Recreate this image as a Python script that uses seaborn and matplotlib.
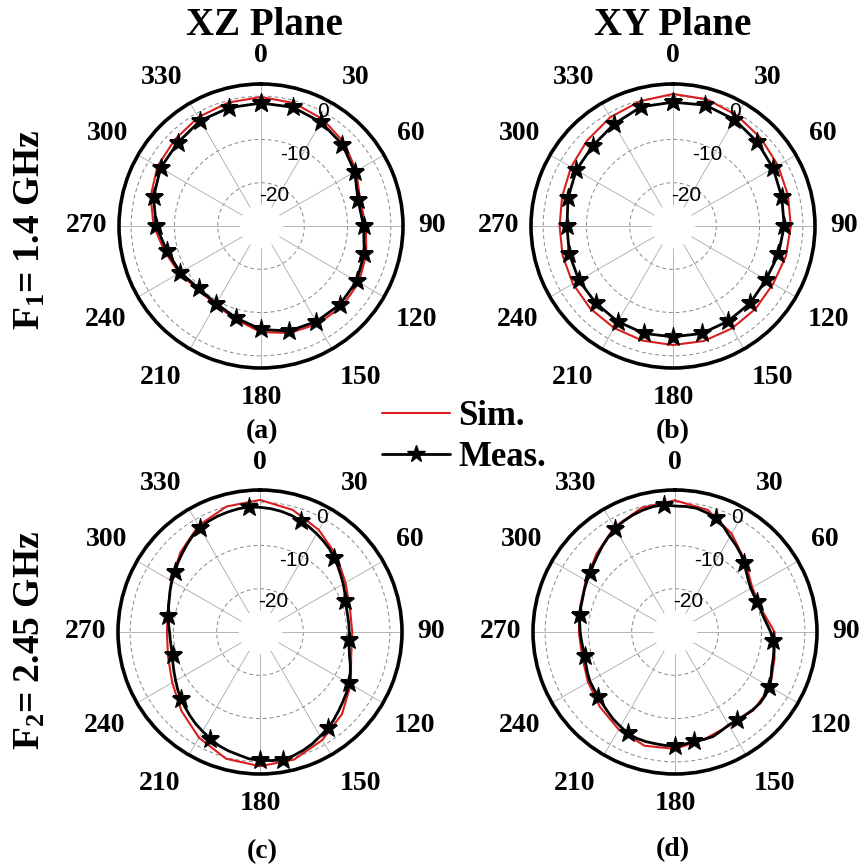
import numpy as np
import matplotlib
matplotlib.use("Agg")
import matplotlib.pyplot as plt
import seaborn as sns
from matplotlib.lines import Line2D

sns.set_style("white")
plt.rcParams['font.family'] = ['Liberation Serif', 'DejaVu Serif']
plt.rcParams['mathtext.fontset'] = 'custom'
plt.rcParams['mathtext.rm'] = 'Liberation Serif:bold'
plt.rcParams['mathtext.it'] = 'Liberation Serif:bold'
plt.rcParams['mathtext.bf'] = 'Liberation Serif:bold'
for key in ['text.color', 'axes.labelcolor', 'xtick.color', 'ytick.color']:
    plt.rcParams[key] = 'black'

# ---------------- data ----------------
ang15 = list(range(0, 360, 15))              # deg, panels (a),(b)
ang5_from180 = [(180 + 5 * i) % 360 for i in range(72)]  # deg, panels (c),(d)

a_sim = [-0.2, -0.6, -1.5, -2.8, -4.6, -6.3, -5.8, -4.8, -3.9, -3.6, -3.9, -4.4,
         -5.5, -7.6, -9.0, -9.3, -8.2, -7.0, -5.2, -3.6, -2.4, -1.8, -1.0, -0.5]
a_meas = [-1.6, -1.6, -2.3, -3.4, -5.0, -6.8, -6.3, -5.3, -4.5, -4.3, -4.5, -4.9,
          -6.1, -8.0, -9.3, -9.6, -8.5, -7.5, -5.8, -4.3, -3.2, -2.8, -1.9, -1.7]

b_sim = [0.5, 0.3, -0.5, -1.3, -2.0, -2.5, -2.8, -3.0, -3.3, -3.0, -2.7, -2.5,
         -2.5, -2.6, -2.8, -3.0, -3.3, -3.6, -3.8, -3.5, -2.8, -2.0, -1.0, -0.2]
b_meas = [-1.4, -1.1, -1.6, -2.5, -3.3, -4.0, -4.3, -4.8, -5.2, -4.8, -4.6, -4.3,
          -4.4, -4.3, -4.5, -4.8, -4.9, -5.2, -5.5, -4.9, -4.2, -3.8, -2.8, -1.5]

c_sim = [0.5, -0.8, -2.8, -5.0, -7.2, -8.5, -8.7, -8.2, -5.8, -3.2, -1.2, 0.5,
         1.0, 0.3, -1.8, -4.3, -6.6, -8.0, -8.5, -8.0, -6.3, -4.0, -1.6, 0.0]
c_meas = [-0.4, -0.6, -1.2, -1.6, -2.1, -2.8, -3.5, -4.1, -4.8, -5.5, -6.1, -6.8,
          -7.5, -8.1, -8.6, -9.1, -9.2, -9.2, -9.1, -8.8, -8.5, -8.1, -7.7, -7.1,
          -6.5, -6.0, -5.2, -4.5, -3.7, -2.9, -2.2, -1.8, -1.5, -1.3, -1.1, -1.0,
          -1.2, -1.4, -1.7, -2.1, -2.6, -3.2, -3.8, -4.4, -5.0, -5.8, -6.5, -7.2,
          -7.8, -8.4, -9.0, -9.3, -9.4, -9.4, -9.4, -9.3, -9.1, -8.6, -7.8, -7.0,
          -6.3, -5.6, -5.0, -4.3, -3.5, -2.8, -2.2, -1.5, -0.9, -0.4, 0.0, -0.2]

d_sim = [0.4, -0.8, -3.8, -7.0, -9.4, -9.4, -7.0, -6.2, -4.6, -4.4, -5.0, -4.3,
         -3.0, -2.8, -4.0, -5.5, -6.8, -7.8, -7.8, -7.3, -6.2, -4.4, -2.0, -0.3]
d_meas = [-3.7, -3.7, -3.8, -3.8, -3.9, -4.2, -4.8, -5.3, -5.9, -6.4, -6.8, -7.1,
          -7.3, -7.7, -8.1, -8.4, -8.4, -8.3, -8.1, -7.9, -7.7, -7.5, -7.3, -6.9,
          -6.5, -6.1, -5.5, -4.8, -4.0, -3.2, -2.4, -1.8, -1.3, -0.9, -0.6, -0.5,
          -0.9, -0.9, -1.0, -1.5, -2.1, -3.3, -4.6, -5.5, -6.4, -7.4, -8.5, -9.3,
          -9.8, -9.9, -9.8, -9.6, -9.3, -8.7, -7.9, -7.3, -6.8, -6.5, -6.2, -5.5,
          -4.8, -4.5, -4.4, -4.6, -4.9, -5.1, -5.2, -4.8, -4.3, -4.3, -4.4, -4.0]

theta_labels = ['0', '30', '60', '90', '120', '150', '180', '210', '240', '270', '300', '330']
ring_vals = [-20, -10, 0]
ring_labels = ['-20', '-10', '0']
col_titles = ['XZ Plane', 'XY Plane']
row_titles = ['F$_1$= 1.4 GHz', 'F$_2$= 2.45 GHz']
panel_tags = ['(a)', '(b)', '(c)', '(d)']

RED = '#d91e1e'
RMIN, RMAX = -30, 2.8

W, H = 864, 866
fig = plt.figure(figsize=(W / 100, H / 100), dpi=100)

centers = [(261, 226), (673, 226), (260, 632), (675, 632)]
R = 142

# pixel offsets (right, up) of the angle labels from the plot centre
label_offsets = [(0, 170), (95, 149), (150, 93), (171, 0), (155, -94), (100, -151),
                 (0, -172), (-100, -151), (-155, -94), (-174, 0), (-153, 93), (-99, 149)]


def closed(angles, vals):
    th = np.deg2rad(list(angles) + [angles[0]])
    return th, list(vals) + [vals[0]]


panels = [
    (ang15, a_sim, ang15, a_meas, 1),
    (ang15, b_sim, ang15, b_meas, 1),
    (ang15, c_sim, ang5_from180, c_meas, 5),
    (ang15, d_sim, ang5_from180, d_meas, 5),
]

# placement of ring labels (angle deg, radial offset in dB)
ring_label_pos = [(23.5, -2.4), (26.0, -1.7), (28.4, 0.0)]

for k, (cx, cy) in enumerate(centers):
    ax = fig.add_axes([(cx - R) / W, 1 - (cy + R) / H, 2 * R / W, 2 * R / H],
                      projection='polar')
    ax.set_theta_zero_location('N')
    ax.set_theta_direction(-1)
    ax.set_ylim(RMIN, RMAX)

    sa, sv, ma, mv, mev = panels[k]
    th, r = closed(sa, sv)
    sns.lineplot(x=th, y=r, ax=ax, sort=False, estimator=None,
                 color=RED, lw=1.5, zorder=3)
    th, r = closed(ma, mv)
    sns.lineplot(x=th, y=r, ax=ax, sort=False, estimator=None,
                 color='black', lw=2.0, marker='*', markersize=14,
                 markevery=mev, markerfacecolor='black', markeredgecolor='black',
                 zorder=4)
    ax.set_xlabel('')
    ax.set_ylabel('')

    # grid
    ax.xaxis.grid(False)
    for a in range(0, 360, 30):
        ax.plot([np.deg2rad(a)] * 2, [-25, RMAX], color='#aaaaaa', lw=0.6, zorder=1)
    ax.set_yticks(ring_vals)
    ax.set_yticklabels([])
    ax.yaxis.grid(True, linestyle=(0, (4, 3)), color='#888888', lw=0.7)
    for v, lab, (pa, off) in zip(ring_vals, ring_labels, ring_label_pos):
        ax.text(np.deg2rad(pa), v + off, lab, ha='center', va='center',
                fontsize=15, family='Liberation Sans', color='black', zorder=5)

    ax.set_xticks(np.deg2rad(np.arange(0, 360, 30)))
    ax.set_xticklabels([])
    ax.set_xticks(np.deg2rad(np.arange(15, 360, 30)), minor=True)
    ax.tick_params(axis='x', which='major', direction='in', length=6, width=2)
    ax.tick_params(axis='x', which='minor', direction='in', length=4, width=1.5)
    ax.spines['polar'].set_linewidth(2.6)
    ax.spines['polar'].set_color('black')
    for lab, (dx, dy) in zip(theta_labels, label_offsets):
        ax.text(0.5 + dx / (2 * R), 0.5 + dy / (2 * R), lab, transform=ax.transAxes,
                ha='center', va='center', fontsize=20, fontweight='bold')

# column titles
for x, t in zip([264, 673], col_titles):
    fig.text(x / W, 1 - 35 / H, t, ha='center', va='baseline',
             fontsize=28, fontweight='bold')
# row titles
for y, t in zip([230, 640], row_titles):
    fig.text(30 / W, 1 - y / H, t, ha='center', va='center', rotation=90,
             fontsize=27, fontweight='bold')
# panel tags
for (x, y), t in zip([(262, 432), (673, 432), (262, 852), (673, 850)], panel_tags):
    fig.text(x / W, 1 - y / H, t, ha='center', va='center',
             fontsize=20, fontweight='bold')

# legend
handles = [Line2D([], [], color=RED, lw=1.5),
           Line2D([], [], color='black', lw=2.0, marker='*', markersize=13)]
fig.legend(handles, ['Sim.', 'Meas.'], loc='center left',
           bbox_to_anchor=(382 / W, 1 - 437 / H), frameon=False,
           prop={'family': 'Liberation Serif', 'weight': 'bold', 'size': 25},
           handlelength=1.95, handletextpad=0.25, labelspacing=0.25, borderpad=0,
           borderaxespad=0)

fig.savefig('out.png', dpi=100)
